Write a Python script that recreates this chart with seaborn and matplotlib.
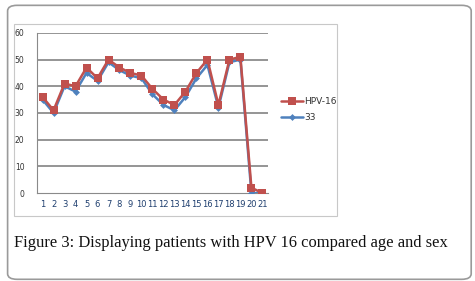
import numpy as np
import pandas as pd
import matplotlib
matplotlib.use("Agg")
import matplotlib.pyplot as plt
import seaborn as sns
from matplotlib.patches import FancyBboxPatch, Rectangle

groups = list(range(1, 22))
hpv16 = [36, 31, 41, 40, 47, 43, 50, 47, 45, 44, 39, 35, 33, 38, 45, 50, 33, 50, 51, 2, 0]
hpv33 = [35, 30, 40, 38, 45, 42, 49, 46, 44, 43, 37, 33, 31, 36, 43, 48, 32, 49, 50, 0, 0]
series_names = ["HPV-16", "33"]
caption = "Figure 3: Displaying patients with HPV 16 compared age and sex"

df = pd.concat([
    pd.DataFrame({"group": groups, "value": hpv16, "series": series_names[0]}),
    pd.DataFrame({"group": groups, "value": hpv33, "series": series_names[1]}),
])

sns.set_style("white")
fig = plt.figure(figsize=(4.75, 2.81), dpi=100)

# outer rounded frame and inner chart frame
fig.patches.append(FancyBboxPatch((0.016, 0.006), 0.976, 0.975,
                                  boxstyle="round,pad=0,rounding_size=0.02",
                                  transform=fig.transFigure, fill=False,
                                  edgecolor="#9a9a9a", linewidth=1.2))
fig.patches.append(Rectangle((0.03, 0.23), 0.68, 0.685, transform=fig.transFigure,
                             fill=False, edgecolor="#c8c8c8", linewidth=0.8))

ax = fig.add_axes([0.078, 0.313, 0.486, 0.570])
palette = {"HPV-16": "#C0504D", "33": "#4F81BD"}
sns.lineplot(data=df[df.series == "33"], x="group", y="value", color=palette["33"],
             marker="D", markersize=3.5, markeredgewidth=0, linewidth=1.8,
             label="33", ax=ax, zorder=3)
sns.lineplot(data=df[df.series == "HPV-16"], x="group", y="value", color=palette["HPV-16"],
             marker="s", markersize=6, markeredgewidth=0, linewidth=1.8,
             label="HPV-16", ax=ax, zorder=4)

ax.set_xlim(0.5, 21.5)
ax.set_ylim(0, 60)
ax.set_yticks(range(0, 61, 10))
ax.set_yticklabels([str(v) for v in range(0, 61, 10)], fontsize=5.5, color="#333333")
ax.set_xticks(groups)
ax.set_xticklabels([str(g) for g in groups], fontsize=6, color="#1f3f6f")
ax.set_xticks(np.arange(0.5, 22, 1), minor=True)
ax.tick_params(axis="x", which="major", length=0, pad=5)
ax.tick_params(axis="x", which="minor", length=3, color="#8a8a8a", width=0.8, direction="out")
ax.tick_params(axis="y", length=3, color="#8a8a8a", width=0.8, pad=6)
for v in range(10, 61, 10):
    ax.axhline(v, color="#8c8c8c", linewidth=1.3, zorder=1)
ax.set_xlabel("")
ax.set_ylabel("")
for s in ["top", "right"]:
    ax.spines[s].set_visible(False)
ax.spines["left"].set_color("#8a8a8a")
ax.spines["bottom"].set_color("#8a8a8a")
ax.spines["left"].set_linewidth(0.8)
ax.spines["bottom"].set_linewidth(0.8)

handles, labels = ax.get_legend_handles_labels()
order = [labels.index("HPV-16"), labels.index("33")]
ax.legend([handles[i] for i in order], [labels[i] for i in order],
          loc="center left", bbox_to_anchor=(1.02, 0.52), frameon=False,
          fontsize=6.5, handlelength=2.5, handletextpad=0.1, labelspacing=0.8,
          labelcolor="#333333")

fig.text(0.03, 0.135, caption, fontsize=11.9, family="Liberation Serif",
         color="#111111", va="center")

fig.savefig("out.png", dpi=100)
